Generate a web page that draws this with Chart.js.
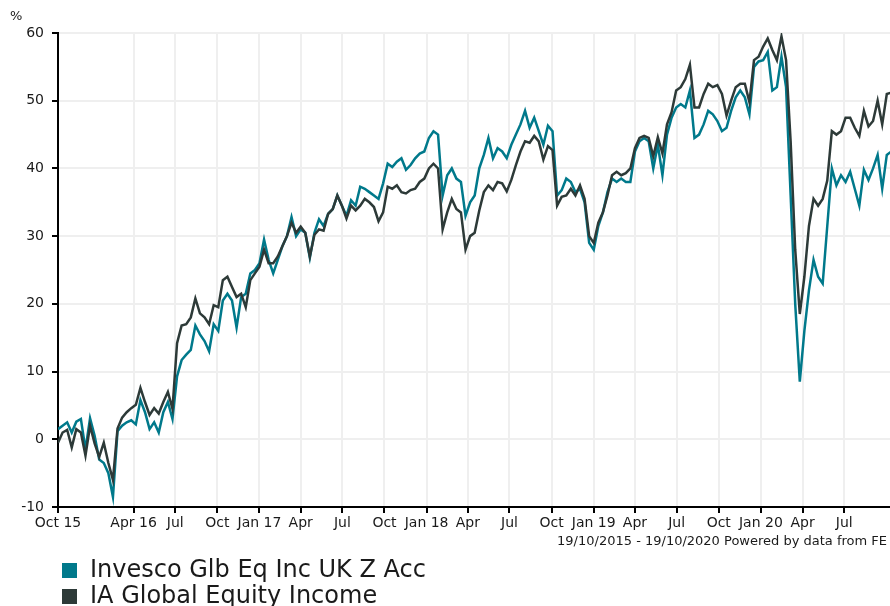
<!DOCTYPE html>
<html>
<head>
<meta charset="utf-8">
<script src="https://cdn.jsdelivr.net/npm/chart.js@4.4.0/dist/chart.umd.min.js"></script>
<style>
  body { margin: 0; background: #fff; font-family: "DejaVu Sans", Verdana, sans-serif; color: #1a1a1a; }
  #wrap { position: relative; width: 890px; height: 606px; overflow: hidden; }
  #unit { position: absolute; left: 10px; top: 8px; font-size: 13px; }
  #note { position: absolute; right: 3px; top: 533px; font-size: 13px; }
  #legende { position: absolute; left: 62px; top: 556px; font-size: 24px; }
  .item { height: 26px; line-height: 26px; white-space: nowrap; }
  .carre { display: inline-block; width: 15px; height: 15px; margin-right: 13px; vertical-align: -1px; }
</style>
</head>
<body>
<div id="wrap">
  <canvas id="myChart" width="890" height="606"></canvas>
  <div id="unit">%</div>
  <div id="note">19/10/2015 - 19/10/2020 Powered by data from FE</div>
  <div id="legende">
    <div class="item"><span class="carre" style="background:#00798b"></span>Invesco Glb Eq Inc UK Z Acc</div>
    <div class="item"><span class="carre" style="background:#2d3a38"></span>IA Global Equity Income</div>
  </div>
</div>
<script>
// jours depuis le 19/10/2015, un point tous les 10 jours
var stepDays = 10;

// graduations de l'axe x (jours depuis le debut) et leurs libelles
var tickDays = [0, 165, 256, 348, 440, 530, 621, 713, 805, 895, 986, 1078, 1170, 1260, 1351, 1443, 1535, 1626, 1717];
var tickLabels = ["Oct 15", "Apr 16", "Jul", "Oct", "Jan 17", "Apr", "Jul", "Oct", "Jan 18", "Apr", "Jul", "Oct", "Jan 19", "Apr", "Jul", "Oct", "Jan 20", "Apr", "Jul"];
var yTicks = [-10, 0, 10, 20, 30, 40, 50, 60];

var invesco = [
  1.5, 2.0, 2.5, 1.0, 2.6, 3.0, -1.5, 3.1, 0.5, -3.0,
  -3.5, -5.0, -8.5, 1.2, 2.0, 2.5, 2.8, 2.2, 5.8, 4.0,
  1.5, 2.5, 1.0, 4.0, 5.5, 3.0, 9.3, 11.7, 12.5, 13.2,
  16.8, 15.5, 14.5, 13.0, 17.0, 16.0, 20.5, 21.5, 20.5, 16.5,
  21.0, 21.5, 24.5, 25.0, 26.0, 29.5, 26.5, 24.5, 26.5, 28.5,
  30.0, 32.8, 30.0, 31.0, 30.5, 26.8, 30.5, 32.5, 31.5, 33.3,
  34.0, 36.0, 34.5, 33.0, 35.3, 34.5, 37.3, 37.0, 36.5, 36.0,
  35.5, 37.8, 40.7, 40.2, 41.0, 41.5, 39.8, 40.5, 41.5, 42.2,
  42.5, 44.5, 45.5, 45.0, 36.0, 39.0, 40.0, 38.5, 38.0, 33.0,
  35.0, 36.0, 40.0, 42.0, 44.5, 41.5, 43.0, 42.5, 41.5, 43.5,
  45.0, 46.5, 48.5, 46.0, 47.5, 45.5, 43.5, 46.3, 45.5, 36.0,
  36.8, 38.5, 38.0, 36.5, 37.0, 35.0, 29.0, 28.0, 31.5, 33.5,
  36.5, 38.5, 38.0, 38.5, 38.0, 38.0, 42.5, 44.0, 44.5, 44.0,
  40.0, 43.5, 39.0, 45.0, 47.5, 49.0, 49.5, 49.0, 51.5, 44.5,
  45.0, 46.5, 48.5, 48.0, 47.0, 45.5, 46.0, 48.5, 50.5, 51.5,
  50.5, 48.0, 55.0, 55.8, 56.0, 57.2, 51.5, 52.0, 56.5, 52.0,
  36.0, 20.0, 8.5, 16.0, 22.0, 26.5, 24.0, 23.0, 31.5, 40.0,
  37.5, 39.0, 38.0, 39.5, 37.0, 34.5, 39.8, 38.3, 40.0, 42.0,
  37.0, 42.0, 42.5
];

var iaGlobal = [
  -0.5, 1.0, 1.4, -1.2, 1.5, 1.0, -2.4, 2.0, -0.6, -2.6,
  -0.5, -3.5, -6.0, 1.6, 3.2, 4.0, 4.6, 5.1, 7.6, 5.5,
  3.6, 4.6, 3.8, 5.5, 7.0, 4.5, 14.2, 16.8, 17.0, 18.0,
  20.8, 18.6, 18.0, 17.0, 19.8, 19.5, 23.5, 24.0, 22.5, 21.0,
  21.5, 19.5, 23.5, 24.5, 25.5, 28.0, 26.0, 26.0, 27.0, 28.5,
  30.0, 32.0, 30.5, 31.4, 30.5, 27.0, 30.2, 31.0, 30.8, 33.3,
  34.0, 36.0, 34.5, 32.6, 34.5, 33.8, 34.5, 35.5, 35.0, 34.3,
  32.2, 33.5, 37.3, 37.0, 37.5, 36.5, 36.3, 36.8, 37.0, 38.0,
  38.5, 40.0, 40.7, 40.0, 31.0, 33.5, 35.5, 34.0, 33.5, 28.0,
  30.0, 30.5, 33.8, 36.5, 37.5, 36.8, 38.0, 37.8, 36.6, 38.3,
  40.5, 42.5, 44.0, 43.8, 44.8, 44.0, 41.3, 43.3, 42.7, 34.5,
  35.8, 36.0, 37.0, 36.0, 37.5, 35.5, 30.0, 29.0, 32.0, 33.5,
  36.0, 39.0, 39.5, 39.0, 39.3, 40.0, 43.0, 44.5, 44.8, 44.5,
  41.8, 44.6, 42.2, 46.5, 48.3, 51.5, 52.0, 53.2, 55.3, 49.0,
  49.0, 51.0, 52.5, 52.0, 52.3, 51.0, 47.8, 50.0, 52.0, 52.5,
  52.5, 49.8, 56.0, 56.5, 58.0, 59.2, 57.5, 56.0, 59.5, 56.0,
  44.0, 28.0, 18.5, 24.0, 31.5, 35.5, 34.5, 35.5, 38.2, 45.5,
  45.0, 45.5, 47.5, 47.5, 46.0, 44.8, 48.5, 46.2, 47.0, 50.0,
  46.5, 51.0, 51.2
];

function enPoints(serie) {
  return serie.map(function (v, i) { return { x: i * stepDays, y: v }; });
}

Chart.defaults.font.family = '"DejaVu Sans", Verdana, sans-serif';
Chart.defaults.font.size = 14;
Chart.defaults.color = '#1a1a1a';

var grille = { color: '#efefef', lineWidth: 2, tickColor: '#000', tickLength: 6, tickWidth: 2 };

var ctx = document.getElementById("myChart").getContext("2d");
var myChart = new Chart(ctx, {
  type: "line",
  data: {
    datasets: [
      {
        label: "Invesco Glb Eq Inc UK Z Acc",
        data: enPoints(invesco),
        borderColor: "#00798b",
        borderWidth: 2.5,
        pointRadius: 0,
        tension: 0,
        order: 2
      },
      {
        label: "IA Global Equity Income",
        data: enPoints(iaGlobal),
        borderColor: "#2d3a38",
        borderWidth: 2.5,
        pointRadius: 0,
        tension: 0,
        order: 1
      }
    ]
  },
  options: {
    responsive: false,
    animation: false,
    devicePixelRatio: 1,
    layout: { padding: { top: 33, left: 0, right: 0, bottom: 0 } },
    plugins: { legend: { display: false }, tooltip: { enabled: false } },
    scales: {
      x: {
        type: "linear",
        min: 0,
        max: 1817,
        afterBuildTicks: function (s) { s.ticks = tickDays.map(function (v) { return { value: v }; }); },
        afterFit: function (s) { s.height = 99; },
        ticks: {
          autoSkip: false,
          maxRotation: 0,
          padding: 2,
          callback: function (v) { return tickLabels[tickDays.indexOf(v)]; }
        },
        grid: grille,
        border: { color: "#000", width: 2 }
      },
      y: {
        min: -10,
        max: 60,
        afterBuildTicks: function (s) { s.ticks = yTicks.map(function (v) { return { value: v }; }); },
        afterFit: function (s) { s.width = 58; },
        ticks: { padding: 8 },
        grid: grille,
        border: { color: "#000", width: 2 }
      }
    }
  }
});
</script>
</body>
</html>
